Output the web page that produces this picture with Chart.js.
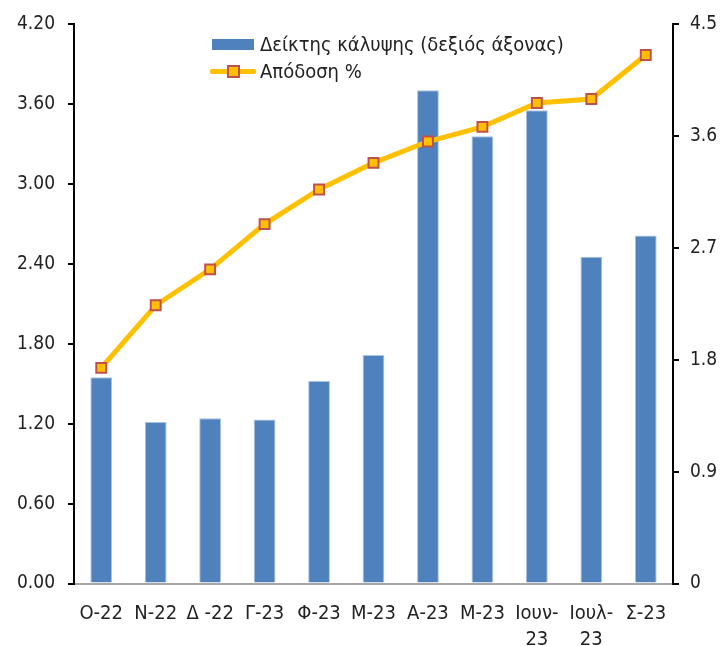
<!DOCTYPE html>
<html>
<head>
<meta charset="utf-8">
<script src="https://cdn.jsdelivr.net/npm/chart.js@4"></script>
<style>
    body { margin: 0; background: #fff; }
    #wrap { position: relative; width: 725px; height: 646px; }
    #legend {
        position: absolute; left: 208px; top: 31px;
        font-family: 'DejaVu Sans Condensed', 'DejaVu Sans', sans-serif;
        font-size: 20px; color: #222; line-height: 27px;
    }
    .item { display: flex; align-items: center; height: 27px; }
    .swatch { width: 50px; height: 27px; position: relative; margin-right: 2px; }
    .box { position: absolute; left: 4px; top: 8px; width: 42px; height: 11px; background: #4F81BD; }
    .ln { position: absolute; left: 2px; top: 11px; width: 46px; height: 5px; background: #FFC000; border-radius: 2px; }
    .mk { position: absolute; left: 19px; top: 7px; width: 9px; height: 9px; background: #FFC000; border: 2px solid #C0504D; }
</style>
</head>
<body>
<div id="wrap">
    <canvas id="myChart"></canvas>
    <div id="legend">
        <div class="item"><div class="swatch"><div class="box"></div></div><span>Δείκτης κάλυψης (δεξιός άξονας)</span></div>
        <div class="item"><div class="swatch"><div class="ln"></div><div class="mk"></div></div><span>Απόδοση %</span></div>
    </div>
</div>
<script>
// months
const categories = ['Ο-22', 'Ν-22', 'Δ -22', 'Γ-23', 'Φ-23', 'Μ-23', 'Α-23', 'Μ-23', ['Ιουν-', '23'], ['Ιουλ-', '23'], 'Σ-23'];
// coverage ratio, right axis
const coverage = [1.66, 1.30, 1.33, 1.32, 1.63, 1.84, 3.97, 3.60, 3.81, 2.63, 2.80];
// yield %, left axis
const yieldPct = [1.62, 2.09, 2.36, 2.70, 2.96, 3.16, 3.32, 3.43, 3.61, 3.64, 3.97];

const leftTicks = [0, 0.6, 1.2, 1.8, 2.4, 3.0, 3.6, 4.2];
const rightTicks = [0, 0.9, 1.8, 2.7, 3.6, 4.5];

const fontFamily = "'DejaVu Sans Condensed', 'DejaVu Sans', sans-serif";

const ctx = document.getElementById('myChart').getContext('2d');
new Chart(ctx, {
    type: 'bar',
    data: {
        labels: categories,
        datasets: [{
            type: 'line',
            label: 'Απόδοση %',
            data: yieldPct,
            yAxisID: 'y',
            borderColor: '#FFC000',
            borderWidth: 5,
            pointStyle: 'rect',
            pointRadius: 7,
            pointBackgroundColor: '#FFC000',
            pointBorderColor: '#C0504D',
            pointBorderWidth: 2,
            tension: 0,
            order: 1
        }, {
            label: 'Δείκτης κάλυψης (δεξιός άξονας)',
            data: coverage,
            yAxisID: 'y1',
            backgroundColor: '#4F81BD',
            borderColor: '#A9C1E2',
            borderWidth: 1,
            barPercentage: 0.4,
            categoryPercentage: 1.0,
            order: 2
        }]
    },
    options: {
        responsive: true,
        maintainAspectRatio: false,
        animation: false,
        layout: { padding: { top: 22.5, left: 0, right: 0, bottom: 0 } },
        scales: {
            x: {
                grid: { display: false },
                border: { display: true, color: '#A6A6A6', width: 2 },
                ticks: {
                    color: '#222',
                    padding: 10,
                    maxRotation: 0,
                    autoSkip: false,
                    font: { family: fontFamily, size: 20, lineHeight: 1.27 }
                },
                afterFit: function(scale) { scale.height = 62.5; }
            },
            y: {
                position: 'left',
                min: 0,
                max: 4.2,
                grid: { display: true, drawOnChartArea: false, drawTicks: true, tickLength: 6, color: '#000', lineWidth: 2 },
                border: { display: true, color: '#000', width: 2 },
                ticks: {
                    color: '#222',
                    padding: 13,
                    font: { family: fontFamily, size: 19 },
                    callback: function(v) { return Number(v).toFixed(2); }
                },
                afterBuildTicks: function(scale) { scale.ticks = leftTicks.map(v => ({ value: v })); },
                afterFit: function(scale) { scale.width = 74; }
            },
            y1: {
                position: 'right',
                min: 0,
                max: 4.5,
                grid: { display: true, drawOnChartArea: false, drawTicks: true, tickLength: 6, color: '#000', lineWidth: 2 },
                border: { display: true, color: '#000', width: 2 },
                ticks: {
                    color: '#222',
                    padding: 11,
                    font: { family: fontFamily, size: 19 },
                    callback: function(v) { return v === 0 ? '0' : Number(v).toFixed(1); }
                },
                afterBuildTicks: function(scale) { scale.ticks = rightTicks.map(v => ({ value: v })); },
                afterFit: function(scale) { scale.width = 52; }
            }
        },
        plugins: {
            legend: { display: false },
            tooltip: { enabled: false }
        }
    }
});
</script>
</body>
</html>
